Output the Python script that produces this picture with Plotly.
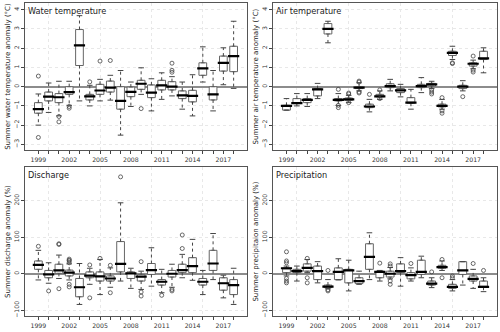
import plotly.graph_objects as go

years = list(range(1999, 2019))
year_labels = [str(y) if (y - 1999) % 3 == 0 else '' for y in years]

# Water temperature anomaly (degC)
water_q1 = [-1.38, -0.74, -0.83, -0.40, 1.10, -0.69, -0.40, -0.28, -1.17, -0.52, -0.14, -0.57, -0.17, -0.17, -0.62, -0.79, 0.59, -0.69, 0.81, 0.78]
water_med = [-1.17, -0.52, -0.55, -0.28, 2.15, -0.50, -0.20, -0.05, -0.74, -0.27, 0.15, -0.31, 0.07, 0.00, -0.45, -0.48, 0.95, -0.40, 1.24, 1.59]
water_q3 = [-0.83, -0.28, -0.36, 0.00, 2.97, -0.40, 0.12, 0.29, 0.00, -0.02, 0.33, 0.09, 0.33, 0.26, -0.22, -0.19, 1.24, 0.00, 1.59, 2.10]
water_lo = [-2.00, -1.34, -1.52, -0.97, -0.74, -1.00, -0.74, -0.70, -2.52, -1.03, -0.40, -1.26, -0.66, -0.48, -1.17, -1.52, 0.24, -1.26, 0.10, -0.09]
water_hi = [-0.38, 0.19, 0.28, 0.28, 3.69, 0.07, 0.38, 0.59, 0.84, 0.24, 0.98, 0.41, 0.72, 0.52, 0.24, 0.62, 2.07, 0.84, 2.02, 3.40]
water_out = [[0.55, -2.64], [], [-1.55, -1.83], [-1.03, -1.12], [], [0.25], [1.33], [1.36], [], [], [-1.14], [], [], [1.22, 0.85, 0.75], [], [], [], [], [], []]

# Air temperature anomaly (degC)
air_q1 = [-1.22, -0.88, -0.83, -0.48, 2.74, -0.74, -0.71, -0.10, -1.09, -0.53, -0.05, -0.31, -0.86, -0.05, 0.03, -1.05, 1.62, -0.10, 1.07, 1.41]
air_med = [-1.00, -0.86, -0.69, -0.14, 3.00, -0.69, -0.66, -0.05, -1.03, -0.50, 0.03, -0.19, -0.83, 0.03, 0.12, -1.00, 1.76, 0.00, 1.19, 1.47]
air_q3 = [-0.97, -0.62, -0.62, -0.10, 3.28, -0.62, -0.59, 0.00, -0.91, -0.40, 0.15, -0.10, -0.57, 0.12, 0.17, -0.91, 1.84, 0.07, 1.24, 1.84]
air_lo = [-1.22, -1.00, -1.03, -0.62, 2.28, -0.97, -0.83, -0.22, -1.31, -0.66, -0.22, -0.53, -1.17, -0.31, -0.10, -1.17, 1.41, -0.22, 0.93, 0.72]
air_hi = [-0.62, -0.36, -0.36, 0.17, 3.40, -0.36, -0.45, 0.20, -0.66, -0.22, 0.38, 0.12, -0.14, 0.47, 0.28, -0.66, 2.10, 0.31, 1.38, 2.02]
air_out = [[], [], [], [], [], [-0.14, -0.97, -1.09], [-0.33, -0.38, -0.83], [0.29, 0.24, -0.28, -0.33], [-0.40], [-0.17, -0.62], [], [], [], [], [-0.17, -0.28, -0.38], [-0.57, -1.26, -1.38], [1.24, 1.20], [-0.52], [1.59, 0.86, 0.76], []]

# Discharge anomaly (%)
dis_q1 = [12, -11, 1, -6, -63, -11, -20, -20, 5, -13, -20, -2, -31, -9, 3, 3, -31, 9, -45, -57]
dis_med = [24, -2, 9, 3, -37, -5, -7, -13, 27, 1, -8, 10, -22, 0, 10, 21, -22, 28, -26, -31]
dis_q3 = [35, 9, 26, 10, -13, 5, 5, -6, 88, 5, -2, 28, -16, 9, 26, 44, -13, 64, -11, -16]
dis_lo = [-17, -26, -13, -17, -84, -29, -57, -37, -20, -40, -43, -34, -52, -37, -11, -18, -57, -16, -66, -84]
dis_hi = [64, 30, 51, 27, 28, 15, 39, 16, 194, 15, 7, 71, 12, 26, 53, 94, 9, 110, -4, 15]
dis_out = [[75], [-47], [82, 80, -41], [40, 37, 35, 30, -29, -36], [], [24, -66], [42], [23, -52], [265], [], [33, -50, -61], [], [-59], [-43, -47], [106, 69], [], [], [], [], []]

# Precipitation anomaly (%)
pre_q1 = [3, 3, 7, -16, -38, -16, -25, -27, 12, -11, -9, 3, -14, -2, -31, 15, -40, -2, -20, -37]
pre_med = [15, 7, 16, 7, -35, 5, 9, -20, 46, 5, 0, 7, -4, 5, -27, 18, -36, 9, -14, -36]
pre_q3 = [16, 12, 27, 21, -31, 16, 12, -11, 82, 7, 7, 27, 3, 37, -20, 23, -29, 33, -6, -20]
pre_lo = [-6, -20, 3, -25, -41, -17, -47, -29, -16, -20, -14, -34, -20, -11, -38, 9, -47, -31, -40, -49]
pre_hi = [21, 21, 39, 33, -16, 41, 37, 7, 112, 9, 17, 44, 16, 48, -11, 35, -16, 33, 12, -11]
pre_out = [[60, 35, 30, -13, -20, -25], [], [42, -11, -25], [], [9, -44, -47], [], [], [], [], [29], [27, 21, -20, -29], [], [28], [], [5], [39, -11], [-11, -6], [], [28], [9]]

panels = [
    ('Water temperature', 'Summer water temperature anomaly (°C)', water_q1, water_med, water_q3, water_lo, water_hi, water_out),
    ('Air temperature', 'Summer air temperature anomaly (°C)', air_q1, air_med, air_q3, air_lo, air_hi, air_out),
    ('Discharge', 'Summer discharge anomaly (%)', dis_q1, dis_med, dis_q3, dis_lo, dis_hi, dis_out),
    ('Precipitation', 'Summer precipitaion anomaly (%)', pre_q1, pre_med, pre_q3, pre_lo, pre_hi, pre_out),
]

x_domains = [[0.05, 0.494], [0.546, 0.994]]
y_domains = [[0.545, 0.991], [0.042, 0.494]]

FONT = 'DejaVu Sans'
fig = go.Figure()

for i, (label, title, q1, med, q3, lo, hi, outs) in enumerate(panels):
    n = i + 1
    xa = 'x' if n == 1 else f'x{n}'
    ya = 'y' if n == 1 else f'y{n}'

    # dotted whiskers
    wx, wy = [], []
    for yr, a, b, c, d in zip(years, q1, q3, lo, hi):
        wx += [yr, yr, None, yr, yr, None]
        wy += [b, d, None, a, c, None]
    fig.add_trace(go.Scatter(x=wx, y=wy, mode='lines', xaxis=xa, yaxis=ya,
                             line=dict(color='#444444', width=1, dash='dot'),
                             showlegend=False, hoverinfo='skip'))
    # whisker caps
    fig.add_trace(go.Scatter(x=years + years, y=lo + hi, mode='markers', xaxis=xa, yaxis=ya,
                             marker=dict(symbol='line-ew', size=4, line=dict(color='#444444', width=1)),
                             showlegend=False, hoverinfo='skip'))
    # boxes
    fig.add_trace(go.Box(x=years, q1=q1, median=med, q3=q3, lowerfence=q1, upperfence=q3,
                         width=0.75, xaxis=xa, yaxis=ya, fillcolor='white',
                         line=dict(color='#666666', width=1), showlegend=False, hoverinfo='skip'))
    # medians
    fig.add_trace(go.Scatter(x=years, y=med, mode='markers', xaxis=xa, yaxis=ya,
                             marker=dict(symbol='line-ew', size=8, line=dict(color='black', width=2.2)),
                             showlegend=False, hoverinfo='skip'))
    # outliers
    ox, oy = [], []
    for yr, vals in zip(years, outs):
        ox += [yr] * len(vals)
        oy += vals
    fig.add_trace(go.Scatter(x=ox, y=oy, mode='markers', xaxis=xa, yaxis=ya,
                             marker=dict(symbol='circle-open', size=4, color='#444444', line=dict(width=0.8)),
                             showlegend=False, hoverinfo='skip'))

    row, col = divmod(i, 2)
    temp = row == 0
    fig.update_layout(**{
        ('xaxis' if n == 1 else f'xaxis{n}'): dict(
            domain=x_domains[col], anchor=ya, range=[1997.7, 2019.3],
            tickmode='array', tickvals=years, ticktext=year_labels,
            ticks='outside', ticklen=3, tickcolor='#444444',
            showgrid=False, showline=True, mirror=True, linecolor='#555555', linewidth=1,
            tickfont=dict(family=FONT, size=6.2, color='#333333'),
            minor=dict(tick0=2000, dtick=5, showgrid=True, gridcolor='#e8e8e8', griddash='dot', gridwidth=1),
            zeroline=False,
        ),
        ('yaxis' if n == 1 else f'yaxis{n}'): dict(
            domain=y_domains[row], anchor=xa,
            range=[-3.3, 4.35] if temp else [-116, 292],
            tickvals=list(range(-3, 5)) if temp else [-100, 0, 100, 200],
            ticks='outside', ticklen=3, tickcolor='#444444', tickangle=-90,
            showgrid=True, gridcolor='#e8e8e8', griddash='dot', gridwidth=1,
            zeroline=True, zerolinecolor='#8c8c8c', zerolinewidth=1.5,
            showline=True, mirror=True, linecolor='#555555', linewidth=1,
            tickfont=dict(family=FONT, size=6.2, color='#333333'),
            title=dict(text=title, standoff=1, font=dict(family=FONT, size=7, color='#222222')),
        ),
    })
    fig.add_annotation(text=label, xref=f'{xa} domain', yref=f'{ya} domain', x=0.005, y=0.995,
                       xanchor='left', yanchor='top', showarrow=False,
                       font=dict(family=FONT, size=8.2, color='#222222'))

fig.update_layout(width=500, height=332, margin=dict(l=0, r=0, t=0, b=0),
                  paper_bgcolor='white', plot_bgcolor='white', boxmode='overlay')

fig.write_html('out.html', config={'displayModeBar': False},
               post_script="document.body.style.margin='0';")
